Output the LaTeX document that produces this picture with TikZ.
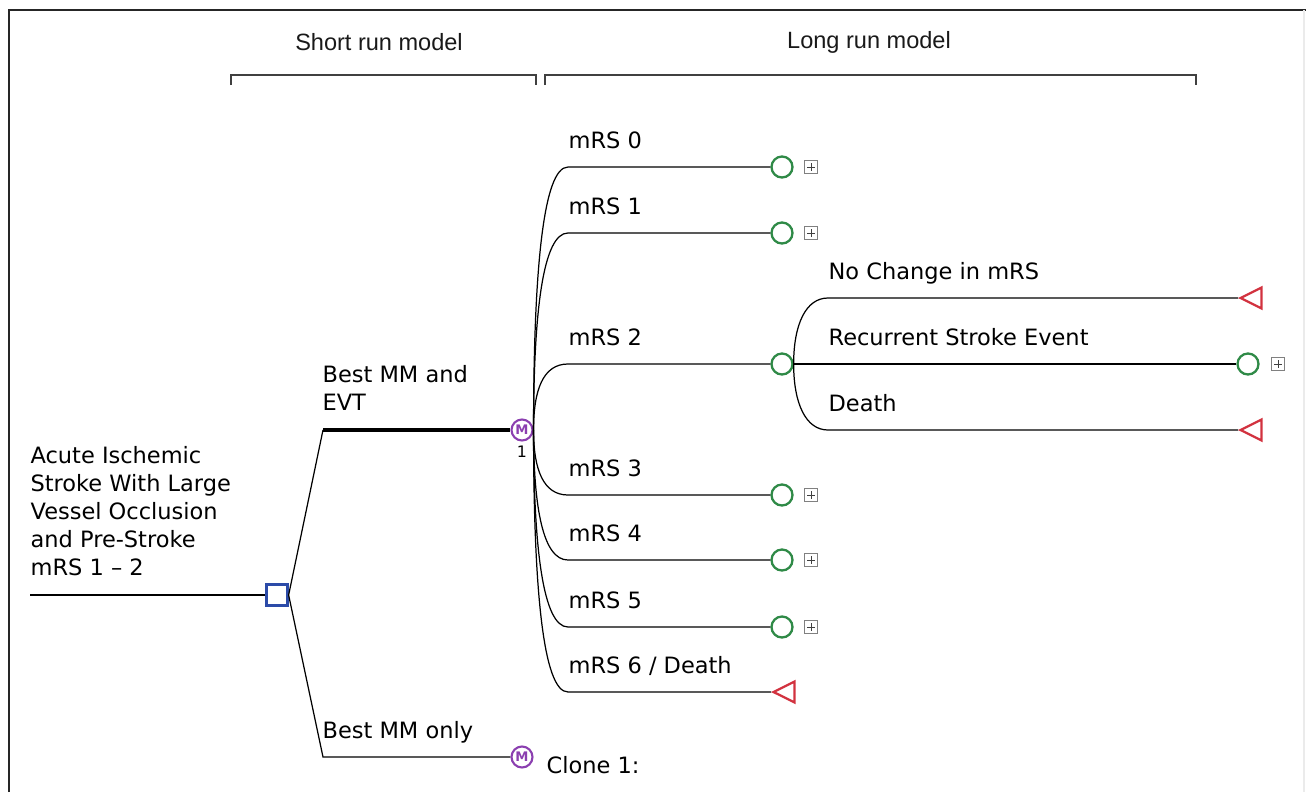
\documentclass[tikz,border=0pt]{standalone}
\usepackage{fontspec}
\setmainfont{DejaVu Sans}
\newfontfamily\hdrfont{Liberation Sans}
\usetikzlibrary{positioning,shapes.geometric}
\definecolor{dec}{HTML}{2C4BA8}
\definecolor{chc}{HTML}{2F8A47}
\definecolor{trm}{HTML}{D2323F}
\definecolor{mkv}{HTML}{8B3FB0}
\tikzset{
  lbl/.style={anchor=base west, inner sep=0pt, align=left},
  hdr/.style={font=\hdrfont\fontsize{13.4}{15}\selectfont, text=black!90},
  brk/.style={draw=black!75, line width=0.6pt},
  decnode/.style={draw=dec, line width=1.3pt, fill=white, minimum size=0.42cm, inner sep=0pt},
  chcnode/.style={circle, draw=chc, line width=1.3pt, fill=white, minimum size=0.42cm, inner sep=0pt},
  mkvnode/.style={circle, draw=mkv, line width=1.2pt, fill=white, minimum size=0.42cm, inner sep=0pt,
    text=mkv, font=\bfseries\fontsize{7.5}{7.5}\selectfont},
  trmnode/.style={isosceles triangle, isosceles triangle apex angle=53, shape border rotate=180,
    draw=trm, line width=1.3pt, fill=white, inner sep=0pt, minimum height=0.42cm, anchor=apex},
  plusbox/.style={draw=black!50, line width=0.4pt, minimum size=0.26cm, inner sep=0pt,
    path picture={\draw[black!75, line width=0.4pt]
      ([xshift=-2pt]path picture bounding box.center) -- ([xshift=2pt]path picture bounding box.center)
      ([yshift=-2pt]path picture bounding box.center) -- ([yshift=2pt]path picture bounding box.center);}}}

\begin{document}
\begin{tikzpicture}[x=0.02cm, y=-0.02cm, line width=0.7pt, font=\fontsize{12.8}{15.9}\selectfont]
\useasboundingbox (0,0) rectangle (1306,792);
% frame
\draw[line width=1.6pt, black!85] (9,792) -- (9,10) -- (1306,10);
\draw[black!8] (1304,10) -- (1304,792);
% model headers
\node[hdr] (short) at (379,42) {Short run model};
\node[hdr] (long) at (869,42) {Long run model};
\draw[brk] (231,85) -- (231,75) -- (536,75) -- (536,85);
\draw[brk] (545,85) -- (545,75) -- (1196,75) -- (1196,85);
% root and decision
\coordinate (root) at (30,595);
\node[decnode] (dec) at (277,595) {};
\draw (root) -- (dec);
\node[lbl] (rootlbl) at (30,575) {Acute Ischemic\\Stroke With Large\\Vessel Occlusion\\and Pre-Stroke\\mRS 1 -- 2};
% strategies
\coordinate (evt) at (323,430);
\coordinate (mm) at (323,757);
\node[mkvnode] (mk) at (522,430) {M};
\node[mkvnode] (cl) at (522,757) {M};
\draw (dec.east) -- (evt);
\draw[line width=2.2pt] (evt) -- (mk);
\draw (dec.east) -- (mm) -- (cl);
\node[lbl] (evtlbl) at (322,410) {Best MM and\\EVT};
\node[lbl] (mmlbl) at (322,738) {Best MM only};
\node[font=\fontsize{9}{9}\selectfont, inner sep=0pt] (mknum) at (522,452) {1};
\node[lbl] (clonelbl) at (546,773) {Clone 1:};
% mRS states
\foreach \n/\yy/\txt in {0/167/mRS 0, 1/233/mRS 1, 3/495/mRS 3, 4/560/mRS 4, 5/627/mRS 5} {
  \pgfmathsetmacro\dy{0.6*(\yy-430)}
  \coordinate (b\n) at (568,\yy);
  \node[chcnode] (c\n) at (782,\yy) {};
  \node[plusbox] (p\n) at (811,\yy) {};
  \node[lbl] (l\n) at (568,\yy-19) {\txt};
  \draw (mk.east) .. controls +(0,\dy) and +(-25,0) .. (b\n) -- (c\n);
}
\coordinate (b2) at (568,364);
\node[chcnode] (c2) at (782,364) {};
\node[lbl] (l2) at (568,345) {mRS 2};
\draw (mk.east) .. controls +(0,-40) and +(-25,0) .. (b2) -- (c2);
\coordinate (b6) at (568,692);
\node[trmnode] (t6) at (771,692) {};
\node[lbl] (l6) at (568,673) {mRS 6 / Death};
\draw (mk.east) .. controls +(0,158) and +(-25,0) .. (b6) -- (t6);
% mRS 2 subtree
\coordinate (s0) at (828,298);
\coordinate (s2) at (828,430);
\node[trmnode] (t20) at (1238,298) {};
\node[chcnode] (c21) at (1248,364) {};
\node[plusbox] (p21) at (1278,364) {};
\node[trmnode] (t22) at (1238,430) {};
\node[lbl] (l20) at (828,279) {No Change in mRS};
\node[lbl] (l21) at (828,345) {Recurrent Stroke Event};
\node[lbl] (l22) at (828,411) {Death};
\draw (c2.east) .. controls +(0,-40) and +(-22,0) .. (s0) -- (t20);
\draw (c2.east) -- (c21);
\draw (c2.east) .. controls +(0,40) and +(-22,0) .. (s2) -- (t22);
\end{tikzpicture}
\end{document}
